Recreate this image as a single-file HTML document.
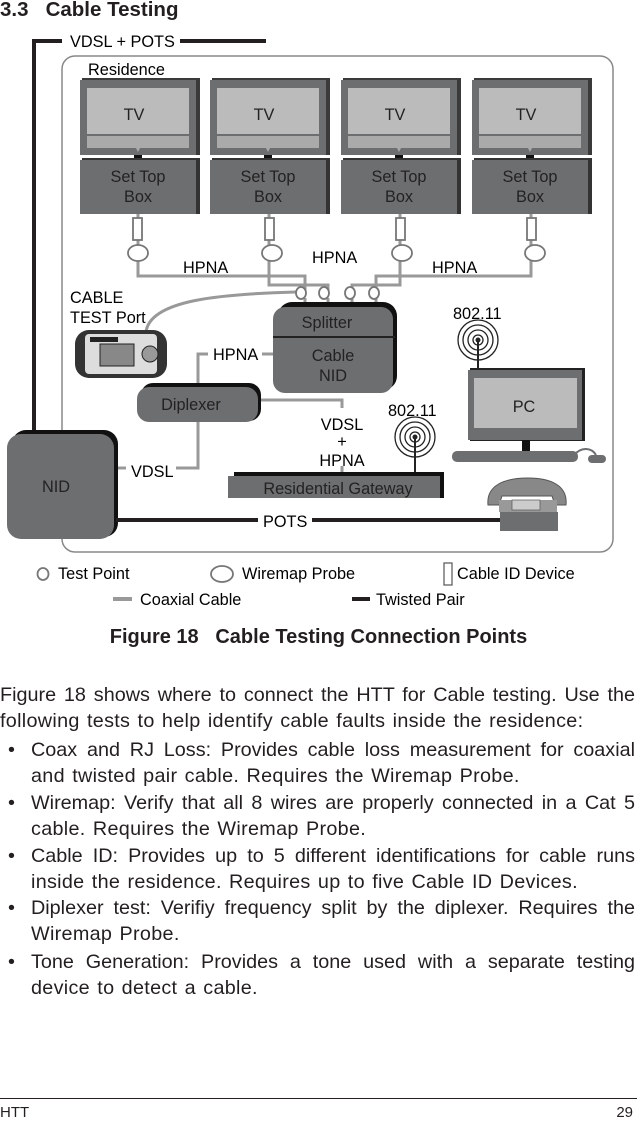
<!DOCTYPE html>
<html><head><meta charset="utf-8"><style>
body{margin:0;background:#fff;width:637px;height:1121px;position:relative;overflow:hidden;font-family:"Liberation Sans",Arial,sans-serif;color:#231f20}
.l{position:absolute;font-size:19.8px;letter-spacing:0;word-spacing:0;line-height:22px;white-space:nowrap;text-align:justify;text-align-last:justify}
.n{text-align-last:auto;letter-spacing:0.3px;word-spacing:1.5px}
svg text{font-size:16.3px}
</style></head><body>
<svg width="637" height="620" style="position:absolute;left:0;top:0" font-family="Liberation Sans, Arial, sans-serif">
<text x="0" y="16" style="font-size:20.5px;white-space:pre" font-weight="bold" fill="#231f20">3.3   Cable Testing</text>
<polyline points="34,435 34,41 62,41" fill="none" stroke="#231f20" stroke-width="4"/>
<line x1="180" y1="41" x2="266" y2="41" stroke="#231f20" stroke-width="4"/>
<text x="70" y="47">VDSL + POTS</text>
<rect x="62" y="56" width="551" height="496" rx="13" fill="none" stroke="#888" stroke-width="1.5"/>
<text x="88" y="75">Residence</text>
<g>
<g transform="translate(80,0)"><rect x="2" y="78" width="118" height="77" fill="#3a3a3a"/><rect x="0" y="80" width="116" height="75" fill="#6d6e70"/><rect x="7" y="88" width="102" height="46" fill="#bbb"/><polygon points="7,136 109,136 109,148 60,148 58,152 56,148 7,148" fill="#aaa"/><rect x="54" y="155" width="8" height="6" fill="#111"/><rect x="2" y="158" width="118" height="56" fill="#333"/><rect x="0" y="160" width="116" height="54" fill="#6d6e70"/><text x="58" y="182" text-anchor="middle" fill="#222">Set Top</text><text x="58" y="202" text-anchor="middle" fill="#222">Box</text><text x="54" y="120" text-anchor="middle" fill="#222">TV</text></g>
<g transform="translate(210,0)"><rect x="2" y="78" width="118" height="77" fill="#3a3a3a"/><rect x="0" y="80" width="116" height="75" fill="#6d6e70"/><rect x="7" y="88" width="102" height="46" fill="#bbb"/><polygon points="7,136 109,136 109,148 60,148 58,152 56,148 7,148" fill="#aaa"/><rect x="54" y="155" width="8" height="6" fill="#111"/><rect x="2" y="158" width="118" height="56" fill="#333"/><rect x="0" y="160" width="116" height="54" fill="#6d6e70"/><text x="58" y="182" text-anchor="middle" fill="#222">Set Top</text><text x="58" y="202" text-anchor="middle" fill="#222">Box</text><text x="54" y="120" text-anchor="middle" fill="#222">TV</text></g>
<g transform="translate(341,0)"><rect x="2" y="78" width="118" height="77" fill="#3a3a3a"/><rect x="0" y="80" width="116" height="75" fill="#6d6e70"/><rect x="7" y="88" width="102" height="46" fill="#bbb"/><polygon points="7,136 109,136 109,148 60,148 58,152 56,148 7,148" fill="#aaa"/><rect x="54" y="155" width="8" height="6" fill="#111"/><rect x="2" y="158" width="118" height="56" fill="#333"/><rect x="0" y="160" width="116" height="54" fill="#6d6e70"/><text x="58" y="182" text-anchor="middle" fill="#222">Set Top</text><text x="58" y="202" text-anchor="middle" fill="#222">Box</text><text x="54" y="120" text-anchor="middle" fill="#222">TV</text></g>
<g transform="translate(472,0)"><rect x="2" y="78" width="118" height="77" fill="#3a3a3a"/><rect x="0" y="80" width="116" height="75" fill="#6d6e70"/><rect x="7" y="88" width="102" height="46" fill="#bbb"/><polygon points="7,136 109,136 109,148 60,148 58,152 56,148 7,148" fill="#aaa"/><rect x="54" y="155" width="8" height="6" fill="#111"/><rect x="2" y="158" width="118" height="56" fill="#333"/><rect x="0" y="160" width="116" height="54" fill="#6d6e70"/><text x="58" y="182" text-anchor="middle" fill="#222">Set Top</text><text x="58" y="202" text-anchor="middle" fill="#222">Box</text><text x="54" y="120" text-anchor="middle" fill="#222">TV</text></g>
</g>
<g fill="none" stroke="#999" stroke-width="3">
<polyline points="138,214 138,262 138,276 305,276 305,292"/>
<polyline points="269,214 269,262 269,285 328,285 328,292"/>
<polyline points="400,214 400,262 400,285 352,285 352,292"/>
<polyline points="531,214 531,262 531,276 376,276 376,292"/>
<path d="M146,332 C150,300 220,294 296,292"/>
<polyline points="273,354 262,354"/>
<polyline points="208,354 198,354 198,388"/>
<polyline points="198,420 198,468 176,468"/>
<polyline points="126,468 116,468"/>
<polyline points="258,400 342,400 342,408"/>
<polyline points="342,466 342,474"/>
<line x1="305" y1="298" x2="305" y2="308"/><line x1="328" y1="298" x2="328" y2="308"/><line x1="352" y1="298" x2="352" y2="308"/><line x1="376" y1="298" x2="376" y2="308"/>
</g>
<g fill="#fff" stroke="#777" stroke-width="1.8">
<rect x="133" y="218" width="9" height="22"/><rect x="265" y="218" width="9" height="22"/><rect x="396" y="218" width="9" height="22"/><rect x="527" y="218" width="9" height="22"/>
<ellipse cx="138" cy="253" rx="10" ry="8"/><ellipse cx="272" cy="253" rx="10" ry="8"/><ellipse cx="402" cy="253" rx="10" ry="8"/><ellipse cx="535" cy="253" rx="10" ry="8"/>
<ellipse cx="301" cy="293" rx="5" ry="6"/><ellipse cx="324" cy="293" rx="5" ry="6"/><ellipse cx="350" cy="293" rx="5" ry="6"/><ellipse cx="374" cy="293" rx="5" ry="6"/>
</g>
<text x="183" y="273">HPNA</text><text x="312" y="263">HPNA</text><text x="432" y="273">HPNA</text>
<rect x="278" y="302" width="119" height="88" rx="14" fill="#111"/>
<rect x="273" y="307" width="120" height="86" rx="12" fill="#6d6e70"/>
<line x1="273" y1="337" x2="395" y2="337" stroke="#222" stroke-width="2"/>
<text x="327" y="328" text-anchor="middle" fill="#222">Splitter</text>
<text x="333" y="361" text-anchor="middle" fill="#222">Cable</text>
<text x="333" y="381" text-anchor="middle" fill="#222">NID</text>
<text x="70" y="303">CABLE</text><text x="70" y="323">TEST Port</text>
<rect x="75" y="330" width="92" height="48" rx="14" fill="#333"/>
<rect x="85" y="334" width="72" height="40" rx="4" fill="#ddd"/>
<rect x="100" y="344" width="34" height="22" fill="#888" stroke="#222"/>
<circle cx="150" cy="354" r="8" fill="#999" stroke="#222"/>
<rect x="90" y="337" width="28" height="5" fill="#222"/>
<text x="213" y="360">HPNA</text>
<rect x="141" y="383" width="120" height="38" rx="12" fill="#111"/>
<rect x="137" y="387" width="121" height="35" rx="12" fill="#6d6e70"/>
<text x="191" y="410" text-anchor="middle" fill="#222">Diplexer</text>
<text x="342" y="430" text-anchor="middle">VDSL</text>
<text x="342" y="447" text-anchor="middle">+</text>
<text x="342" y="466" text-anchor="middle">HPNA</text>
<text x="131" y="477">VDSL</text>
<rect x="12" y="430" width="106" height="107" rx="14" fill="#111"/>
<rect x="7" y="434" width="107" height="105" rx="14" fill="#6d6e70"/>
<text x="56" y="492" text-anchor="middle" fill="#222">NID</text>
<line x1="116" y1="520" x2="258" y2="520" stroke="#231f20" stroke-width="4"/>
<line x1="312" y1="520" x2="500" y2="520" stroke="#231f20" stroke-width="4"/>
<text x="263" y="527">POTS</text>
<rect x="234" y="472" width="210" height="26" fill="#111"/>
<rect x="228" y="476" width="212" height="22" fill="#6d6e70"/>
<text x="338" y="494" text-anchor="middle" fill="#222">Residential Gateway</text>
<g fill="none" stroke="#222" stroke-width="1.3">
<circle cx="415" cy="437" r="5"/><circle cx="415" cy="437" r="10"/><circle cx="415" cy="437" r="15"/><circle cx="415" cy="437" r="20"/>
<circle cx="478" cy="340" r="5"/><circle cx="478" cy="340" r="10"/><circle cx="478" cy="340" r="15"/><circle cx="478" cy="340" r="20"/>
</g>
<line x1="415" y1="437" x2="415" y2="472" stroke="#222" stroke-width="2"/>
<line x1="478" y1="340" x2="478" y2="370" stroke="#222" stroke-width="2"/>
<circle cx="415" cy="437" r="2.5" fill="#222"/><circle cx="478" cy="340" r="2.5" fill="#222"/>
<text x="388" y="416">802.11</text>
<text x="453" y="319">802.11</text>
<rect x="470" y="368" width="115" height="73" fill="#222"/>
<rect x="468" y="370" width="114" height="70" fill="#6d6e70"/>
<rect x="474" y="378" width="103" height="50" fill="#bbb"/>
<text x="524" y="412" text-anchor="middle" fill="#222">PC</text>
<rect x="522" y="440" width="8" height="12" fill="#111"/>
<rect x="452" y="451" width="126" height="11" rx="5" fill="#6d6e70"/>
<rect x="588" y="455" width="18" height="8" rx="4" fill="#6d6e70"/>
<path d="M574,455 C582,446 592,448 596,455" fill="none" stroke="#6d6e70" stroke-width="2"/>
<path d="M488,505 C486,485 505,478 528,478 C550,478 568,485 566,505 L555,505 L552,496 L502,496 L499,505 Z" fill="#888" stroke="#555"/>
<rect x="499" y="500" width="58" height="12" fill="#999"/>
<rect x="512" y="500" width="28" height="10" fill="#ccc" stroke="#555" stroke-width="0.7"/>
<rect x="500" y="512" width="58" height="19" fill="#6d6e70"/>
<ellipse cx="43" cy="574" rx="5.5" ry="6" fill="#fff" stroke="#777" stroke-width="1.8"/>
<text x="58" y="579">Test Point</text>
<ellipse cx="222" cy="574" rx="11" ry="8" fill="#fff" stroke="#777" stroke-width="1.8"/>
<text x="242" y="579">Wiremap Probe</text>
<rect x="444" y="563" width="8" height="22" fill="#fff" stroke="#555" stroke-width="1.2"/>
<text x="457" y="579">Cable ID Device</text>
<line x1="113" y1="599" x2="132" y2="599" stroke="#999" stroke-width="4"/>
<text x="140" y="605">Coaxial Cable</text>
<line x1="352" y1="599" x2="370" y2="599" stroke="#231f20" stroke-width="4"/>
<text x="376" y="605">Twisted Pair</text>
</svg>
<div style="position:absolute;left:0;width:637px;top:626px;text-align:center;font-weight:bold;font-size:20px;white-space:pre">Figure 18   Cable Testing Connection Points</div>
<div class="l" style="left:0;width:635px;top:684px">Figure 18 shows where to connect the HTT for Cable testing. Use the</div>
<div class="l n" style="left:0;width:635px;top:710px">following tests to help identify cable faults inside the residence:</div>
<div class="l n" style="left:8px;top:739px">•</div><div class="l" style="left:31px;width:604px;top:739px">Coax and RJ Loss: Provides cable loss measurement for coaxial</div>
<div class="l n" style="left:31px;top:765px">and twisted pair cable. Requires the Wiremap Probe.</div>
<div class="l n" style="left:8px;top:792px">•</div><div class="l" style="left:31px;width:604px;top:792px">Wiremap: Verify that all 8 wires are properly connected in a Cat 5</div>
<div class="l n" style="left:31px;top:818px">cable. Requires the Wiremap Probe.</div>
<div class="l n" style="left:8px;top:845px">•</div><div class="l" style="left:31px;width:604px;top:845px">Cable ID: Provides up to 5 different identifications for cable runs</div>
<div class="l n" style="left:31px;top:871px">inside the residence. Requires up to five Cable ID Devices.</div>
<div class="l n" style="left:8px;top:897px">•</div><div class="l" style="left:31px;width:604px;top:897px">Diplexer test: Verifiy frequency split by the diplexer. Requires the</div>
<div class="l n" style="left:31px;top:923px">Wiremap Probe.</div>
<div class="l n" style="left:8px;top:951px">•</div><div class="l" style="left:31px;width:604px;top:951px">Tone Generation: Provides a tone used with a separate testing</div>
<div class="l n" style="left:31px;top:977px">device to detect a cable.</div>
<div style="position:absolute;left:0;top:1098px;width:637px;height:1px;background:#231f20"></div>
<div style="position:absolute;left:0;top:1104px;font-size:15px">HTT</div>
<div style="position:absolute;right:4px;top:1104px;font-size:15px">29</div>
</body></html>
